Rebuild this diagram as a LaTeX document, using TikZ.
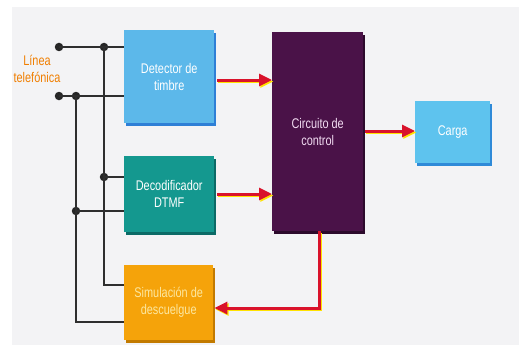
\documentclass[tikz,border=0pt]{standalone}
\usepackage{fontspec}
\setmainfont[FakeStretch=0.78]{Liberation Sans}
\usetikzlibrary{arrows.meta,shadows}
\definecolor{panel}{HTML}{F3F3F5}
\definecolor{detc}{HTML}{5CB8EA}
\definecolor{dets}{HTML}{2E7FD6}
\definecolor{decc}{HTML}{14988F}
\definecolor{decs}{HTML}{0B6A66}
\definecolor{simc}{HTML}{F5A30A}
\definecolor{sims}{HTML}{C27A00}
\definecolor{simt}{HTML}{FCE7A0}
\definecolor{ctlc}{HTML}{4A1248}
\definecolor{ctls}{HTML}{2C0A2C}
\definecolor{ctlt}{HTML}{F2DCF2}
\definecolor{carc}{HTML}{5EC3EE}
\definecolor{cars}{HTML}{2F8AD8}
\definecolor{wirec}{HTML}{2E2E2E}
\definecolor{arrred}{HTML}{D9122B}
\definecolor{arryel}{HTML}{FFE200}
\definecolor{lblc}{HTML}{F07E00}
\tikzset{
  blk/.style={rectangle, inner sep=0pt, anchor=north west, align=center,
    font=\fontsize{14}{17}\selectfont},
  shad/.style={drop shadow={fill=#1, opacity=1, shadow xshift=1.5pt, shadow yshift=-3pt}},
  wire/.style={draw=wirec, line width=1.8pt},
  jdot/.style={circle, fill=black!85, inner sep=0pt, minimum size=8.5pt},
  redarr/.style={draw=arrred, line width=3pt,
    preaction={draw=arryel, line width=2.6pt, transform canvas={xshift=1.3pt,yshift=-1.5pt}}},
  tip/.style={-{Triangle[length=13pt,width=12pt]}}
}
\begin{document}
\begin{tikzpicture}[x=1pt,y=-1pt]
\useasboundingbox (0,0) rectangle (519,345);
\fill[white] (0,0) rectangle (519,345);
\fill[panel] (12,7) rectangle (519,345);

% boxes
\node[blk, shad=dets, fill=detc, text=white, minimum width=90pt, minimum height=93pt] (det) at (124,30) {Detector de\\timbre};
\node[blk, shad=decs, fill=decc, text=white, minimum width=90pt, minimum height=76pt] (dec) at (124,156) {Decodificador\\DTMF};
\node[blk, shad=sims, fill=simc, text=simt, minimum width=89pt, minimum height=75pt] (sim) at (124,265) {Simulación de\\descuelgue};
\node[blk, shad=ctls, fill=ctlc, text=ctlt, minimum width=91pt, minimum height=199pt] (ctl) at (272,32) {Circuito de\\control};
\node[blk, shad=cars, fill=carc, text=white, minimum width=75pt, minimum height=62pt] (car) at (415,101) {Carga};

% label
\node[font=\fontsize{14}{17}\selectfont, text=lblc, align=center] (lbl) at (37,69) {Línea\\telefónica};

% junction dots
\node[jdot] (d1) at (59,47) {};
\node[jdot] (d2) at (104,47) {};
\node[jdot] (d3) at (59,96) {};
\node[jdot] (d4) at (76,96) {};
\node[jdot] (d5) at (104,177) {};
\node[jdot] (d6) at (76,211) {};
\coordinate (j1) at (104,285);
\coordinate (j2) at (76,322);

% wires
\draw[wire] (d1.center) -- (det.west |- d1);
\draw[wire] (d3.center) -- (det.west |- d3);
\draw[wire] (d2.center) -- (j1) -- (sim.west |- j1);
\draw[wire] (d4.center) -- (j2) -- (sim.west |- j2);
\draw[wire] (d5.center) -- (dec.west |- d5);
\draw[wire] (d6.center) -- (dec.west |- d6);

% red arrows
\coordinate (a1) at (217,80);
\coordinate (a2) at (217,194);
\coordinate (a3) at (365,131);
\coordinate (a4) at (319,308);
\draw[redarr, tip] (a1) -- (ctl.west |- a1);
\draw[redarr, tip] (a2) -- (ctl.west |- a2);
\draw[redarr, tip] (a3) -- (car.west |- a3);
\draw[redarr, tip] (ctl.south -| a4) -- (a4) -- ([xshift=1pt]sim.east |- a4);
\end{tikzpicture}
\end{document}
